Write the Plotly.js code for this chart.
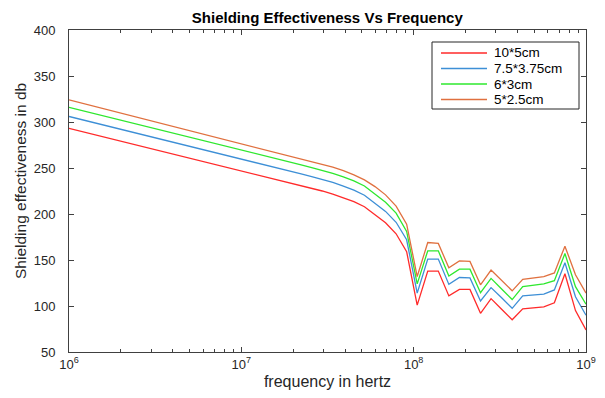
<!DOCTYPE html>
<html><head><meta charset="utf-8">
<script src="https://cdn.plot.ly/plotly-3.0.1.min.js"></script>
<style>html,body{margin:0;padding:0;background:#fff}</style>
</head><body><div id="chart" style="width:605px;height:398px"></div>
<script>
const frequency = [1.000e6,1.151e6,1.326e6,1.526e6,1.758e6,2.024e6,2.330e6,2.683e6,3.089e6,3.557e6,
 4.095e6,4.715e6,5.429e6,6.251e6,7.197e6,8.287e6,9.542e6,1.0987e7,1.2650e7,1.4565e7,
 1.6771e7,1.9310e7,2.2233e7,2.5599e7,2.9475e7,3.3938e7,3.9076e7,4.4992e7,5.1804e7,5.9648e7,
 6.8679e7,7.9077e7,9.1050e7,1.0484e8,1.2071e8,1.3898e8,1.6003e8,1.8426e8,2.1216e8,2.4428e8,
 2.8126e8,3.2385e8,3.7288e8,4.2934e8,4.9434e8,5.6919e8,6.5536e8,7.5459e8,8.6884e8,1.000e9];

const se10x5 = [293,290.2,287.4,284.6,281.8,279,276.2,273.4,270.6,267.8,
 265,262.2,259.4,256.6,253.8,251,248.2,245.3,242.5,239.6,
 236.8,234,231,228,225,221.7,217.9,213.4,207.9,199.5,
 190.5,178.5,159,101,138,138,111,118,118,92,
 108,96.5,85,97,98,99,103.5,135,95,74];

const se7_5x3_75 = [306,303.2,300.4,297.6,294.8,292,289.2,286.4,283.6,280.8,
 278,275.2,272.4,269.6,266.8,264,261,258.1,255.3,252.4,
 249.5,246.6,243.6,240.6,237.6,234.3,230.4,225.9,220.4,212,
 202.8,191,172,114,151,151,123.5,131,130.5,105.5,
 120,109,97.5,111,112,113,117.5,147,110,90];

const se6x3 = [316,313.2,310.4,307.6,304.8,302,299.2,296.4,293.6,290.8,
 288,285.2,282.4,279.6,276.8,274,271,268,265,262,
 259.3,256.5,253.5,250.5,247.5,244.2,240.4,235.9,230.4,222,
 212.8,201,181,124,160,160,132.5,140,140,114.5,
 130,118.5,107,121,122.5,124,127.5,157,121,102];

const se5x2_5 = [324,321.1,318.2,315.3,312.4,309.5,306.6,303.7,300.8,297.9,
 295,292.1,289.2,286.3,283.4,280.5,277.6,274.7,271.8,268.9,
 266,263.2,260.2,257.2,254.2,250.9,247.1,242.6,237.1,229.8,
 220.8,208.5,189,132,169,168,141.5,149,148.5,123,
 139,127.5,116.5,129,130.5,132,136,165,134,114];

const seriesNames = ['10*5cm','7.5*3.75cm','6*3cm','5*2.5cm'];
const seriesColors = ['#ff2a2a','#3d8fd6','#2ee82e','#e0703f'];

const majorTicks = [1e6,1e7,1e8,1e9];
const majorTickText = ['10<sup>6</sup>','10<sup>7</sup>','10<sup>8</sup>','10<sup>9</sup>'];
const minorTicks = [];
[1e6,1e7,1e8].forEach(d => { for (let k = 2; k <= 9; k++) minorTicks.push(d*k); });
const yTicks = [50,100,150,200,250,300,350,400];

const FONT = 'Liberation Sans, Arial, Helvetica, sans-serif';
const allSeries = [se10x5, se7_5x3_75, se6x3, se5x2_5];
const traces = allSeries.map((s, i) => ({
  x: frequency, y: s, type: 'scatter', mode: 'lines', name: seriesNames[i],
  showlegend: false,
  line: {color: seriesColors[i], width: 1.3}
}));

// legend drawn as paper-space box, sample lines and text (pixel layout -> paper coords)
const plotL = 69, plotW = 517, plotB = 352, plotH = 322;
const px = v => (v - plotL) / plotW;
const py = v => (plotB - v) / plotH;
const legendRows = [53, 68.5, 84, 99.5];
const shapes = [{type: 'rect', xref: 'paper', yref: 'paper', x0: px(432), x1: px(579), y0: py(109), y1: py(42),
  line: {color: '#262626', width: 1}, fillcolor: '#ffffff', layer: 'above'}];
const annotations = [];
seriesNames.forEach((n, i) => {
  shapes.push({type: 'line', xref: 'paper', yref: 'paper', x0: px(441), x1: px(487), y0: py(legendRows[i]), y1: py(legendRows[i]),
    line: {color: seriesColors[i], width: 1.3}, layer: 'above'});
  annotations.push({xref: 'paper', yref: 'paper', x: px(492), y: py(legendRows[i]), xanchor: 'left', yanchor: 'middle',
    text: n, showarrow: false, font: {family: FONT, size: 13.5, color: '#000000'}});
});
annotations.push({xref: 'paper', yref: 'paper', x: px(20), y: py(181), xanchor: 'center', yanchor: 'middle',
  textangle: -90, text: 'Shielding effectiveness in db', showarrow: false,
  font: {family: FONT, size: 15.5, color: '#262626'}});

const axisCommon = {
  showgrid: false, zeroline: false, showline: true, linecolor: '#404040', linewidth: 1,
  mirror: 'ticks', ticks: 'inside', ticklen: 5, tickcolor: '#404040',
  tickfont: {family: FONT, size: 13, color: '#262626'}
};

const layout = {
  width: 605, height: 398,
  margin: {l: 69, r: 19, t: 30, b: 46},
  paper_bgcolor: '#ffffff', plot_bgcolor: '#ffffff',
  font: {family: FONT, color: '#262626'},
  title: {text: '<b>Shielding Effectiveness Vs Frequency</b>', x: 0.541, xanchor: 'center', y: 0.955, yanchor: 'middle',
    font: {family: FONT, size: 15, color: '#000000'}},
  xaxis: Object.assign({}, axisCommon, {
    type: 'log', range: [6, 9], tickvals: majorTicks, ticktext: majorTickText,
    minor: {tickvals: minorTicks, ticks: 'inside', ticklen: 3, tickcolor: '#404040', showgrid: false},
    ticklabelstandoff: 0,
    title: {text: 'frequency in hertz', standoff: 5, font: {family: FONT, size: 16, color: '#262626'}}
  }),
  yaxis: Object.assign({}, axisCommon, {
    range: [50, 400], tickvals: yTicks,
    ticklabelstandoff: 10
  }),
  shapes: shapes,
  annotations: annotations,
  showlegend: false
};

Plotly.newPlot('chart', traces, layout, {staticPlot: true, displayModeBar: false});
</script></body></html>
